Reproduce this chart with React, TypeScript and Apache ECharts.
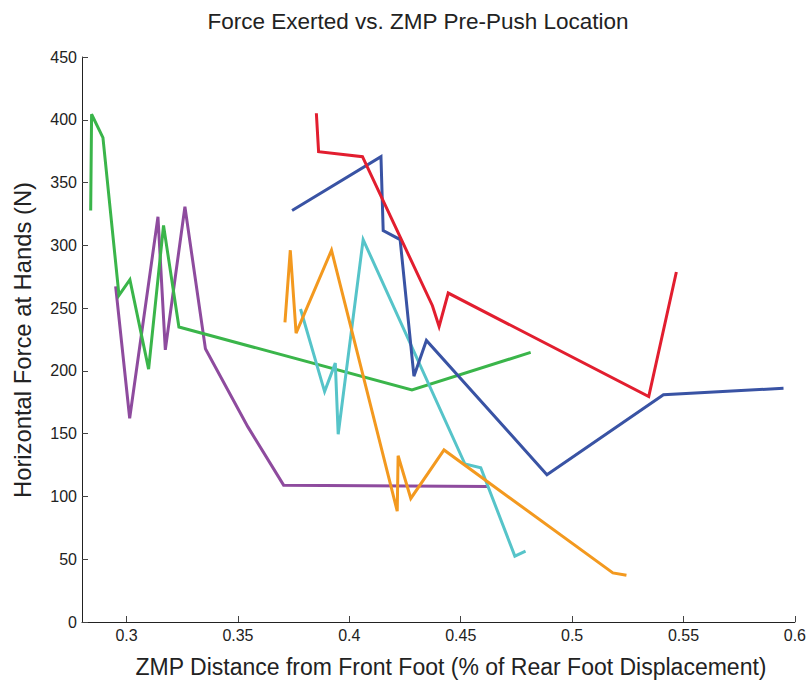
import React, { useEffect, useRef } from "react";
import * as echarts from "echarts";

const xTicks = [0.3, 0.35, 0.4, 0.45, 0.5, 0.55, 0.6];
const yTicks = [0, 50, 100, 150, 200, 250, 300, 350, 400, 450];

const purpleX = [0.2951, 0.3014, 0.3141, 0.3174, 0.3262, 0.3354, 0.3544, 0.3705, 0.4625];
const purpleY = [267.3, 162.3, 322.7, 216.8, 330.7, 217.6, 155.6, 109, 108];

const greenX = [0.2839, 0.2843, 0.2894, 0.2966, 0.3015, 0.3099, 0.3166, 0.3235, 0.4281, 0.4814];
const greenY = [327.7, 404.4, 385.8, 260.2, 272.7, 201.4, 315.8, 234.9, 184.9, 214.7];

const cyanX = [0.3781, 0.3889, 0.3937, 0.395, 0.4062, 0.4519, 0.459, 0.4743, 0.4791];
const cyanY = [249.3, 183.5, 206.2, 149.5, 304.6, 125.8, 122.9, 52.5, 56.5];

const orangeX = [0.3711, 0.3735, 0.3761, 0.392, 0.4215, 0.4219, 0.4276, 0.4425, 0.5183, 0.5244];
const orangeY = [238.6, 296.1, 230.1, 296.1, 88.3, 132.4, 98.4, 137, 39.1, 37.2];

const blueX = [0.3743, 0.4142, 0.4152, 0.4228, 0.429, 0.4346, 0.4887, 0.541, 0.5949];
const blueY = [327.8, 370.6, 311.8, 304.6, 195.8, 224.2, 117.3, 181, 186.2];

const redX = [0.3852, 0.3862, 0.4059, 0.4373, 0.4403, 0.4444, 0.5344, 0.5468];
const redY = [405.2, 374.6, 370.6, 251.9, 235.4, 262, 179.5, 278.8];

const seriesDefs = [
  { name: "Purple", xs: purpleX, ys: purpleY, color: "#8E4B9E" },
  { name: "Green", xs: greenX, ys: greenY, color: "#3AB54A" },
  { name: "Cyan", xs: cyanX, ys: cyanY, color: "#56C4C9" },
  { name: "Orange", xs: orangeX, ys: orangeY, color: "#F3991F" },
  { name: "Blue", xs: blueX, ys: blueY, color: "#3953A4" },
  { name: "Red", xs: redX, ys: redY, color: "#E21E2F" },
];

const FONT = "'Liberation Sans', Arial, Helvetica, sans-serif";

export default function App() {
  const ref = useRef<HTMLDivElement>(null);
  useEffect(() => {
    if (!ref.current) return;
    const chart = echarts.init(ref.current, undefined, { renderer: "svg" });
    chart.setOption({
      animation: false,
      backgroundColor: "#ffffff",
      textStyle: { fontFamily: FONT },
      grid: { left: 82, right: 12, top: 57, bottom: 61, containLabel: false },
      xAxis: {
        type: "value",
        min: 0.28,
        max: 0.6,
        axisLine: { show: true, lineStyle: { color: "#222", width: 1 } },
        axisTick: {
          show: true,
          inside: true,
          length: 6,
          customValues: xTicks,
          lineStyle: { color: "#444" },
        },
        axisLabel: {
          show: true,
          customValues: xTicks,
          color: "#222",
          fontSize: 16,
          fontFamily: FONT,
          margin: 5,
          formatter: (v: number) => String(Math.round(v * 100) / 100),
        },
        splitLine: { show: false },
      },
      yAxis: {
        type: "value",
        min: 0,
        max: 450,
        interval: 50,
        axisLine: { show: true, lineStyle: { color: "#222", width: 1 } },
        axisTick: {
          show: true,
          inside: true,
          length: 6,
          customValues: yTicks,
          lineStyle: { color: "#444" },
        },
        axisLabel: {
          show: true,
          customValues: yTicks,
          color: "#222",
          fontSize: 16,
          fontFamily: FONT,
          margin: 5,
        },
        splitLine: { show: false },
      },
      graphic: [
        {
          type: "text",
          x: 418,
          y: 21,
          style: {
            text: "Force Exerted vs. ZMP Pre-Push Location",
            fontSize: 22.5,
            fontFamily: FONT,
            fill: "#222",
            align: "center",
            verticalAlign: "middle",
          },
        },
        {
          type: "text",
          x: 451,
          y: 667,
          style: {
            text: "ZMP Distance from Front Foot (% of Rear Foot Displacement)",
            fontSize: 23,
            fontFamily: FONT,
            fill: "#222",
            align: "center",
            verticalAlign: "middle",
          },
        },
        {
          type: "text",
          x: 22,
          y: 340,
          rotation: Math.PI / 2,
          style: {
            text: "Horizontal Force at Hands (N)",
            fontSize: 23.8,
            fontFamily: FONT,
            fill: "#222",
            align: "center",
            verticalAlign: "middle",
          },
        },
      ],
      series: seriesDefs.map((s) => ({
        name: s.name,
        type: "line",
        data: s.xs.map((x, i) => [x, s.ys[i]]),
        showSymbol: false,
        symbol: "none",
        lineStyle: { color: s.color, width: 3, join: "miter" },
        itemStyle: { color: s.color },
      })),
    });
    return () => chart.dispose();
  }, []);
  return (
    <div
      ref={ref}
      style={{ position: "fixed", left: 0, top: 0, width: 809, height: 683 }}
    />
  );
}
